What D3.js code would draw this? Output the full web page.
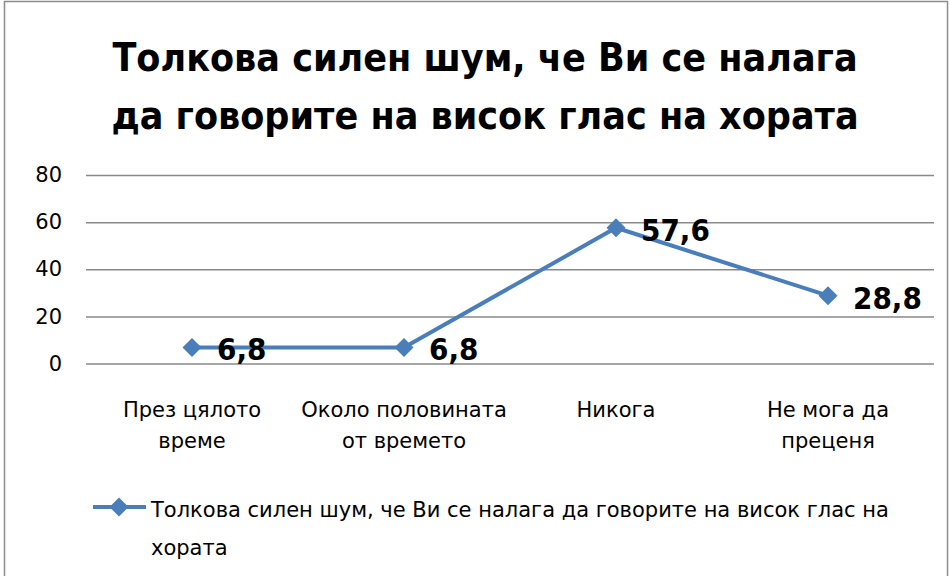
<!DOCTYPE html>
<html>
<head>
<meta charset="utf-8">
<script src="https://cdn.jsdelivr.net/npm/d3@7"></script>
<style>
  body { margin: 0; background: #fff; }
  text { font-family: 'DejaVu Sans', sans-serif; }
  .bold { font-family: 'DejaVu Sans Condensed', 'DejaVu Sans', sans-serif; font-weight: bold; }
</style>
</head>
<body>
<div id="chart"></div>
<script>
// chart data
const categories = [
    ['През цялото', 'време'],
    ['Около половината', 'от времето'],
    ['Никога'],
    ['Не мога да', 'преценя']
];
const values = [6.8, 6.8, 57.6, 28.8];
const valueLabels = ['6,8', '6,8', '57,6', '28,8'];
const yTicks = [0, 20, 40, 60, 80];
const titleLines = ['Толкова силен шум, че Ви се налага', 'да говорите на висок глас на хората'];
const legendLines = ['Толкова силен шум, че Ви се налага да говорите на висок глас на', 'хората'];

const lineColor = '#4a7ebb',
    gridColor = '#898989',
    width = 950,
    height = 576;

const margin = { top: 175, right: 16, bottom: 212, left: 86 };

const svg = d3.select('#chart')
    .append('svg')
    .attr('width', width)
    .attr('height', height);

// outer frame
svg.append('rect')
    .attr('x', 4.5).attr('y', 1.5)
    .attr('width', width - 7).attr('height', height)
    .attr('fill', 'none')
    .attr('stroke', '#8c8c8c')
    .attr('stroke-width', 1.5);

// title
svg.append('text')
    .attr('class', 'bold')
    .attr('text-anchor', 'middle')
    .style('font-size', '39px')
    .selectAll('tspan')
    .data(titleLines)
    .enter()
    .append('tspan')
    .attr('x', 485)
    .attr('y', (d, i) => 71 + i * 58)
    .text(d => d);

const x = d3.scaleBand()
    .domain(d3.range(categories.length))
    .range([margin.left, width - margin.right]);

const y = d3.scaleLinear()
    .domain([0, 80])
    .range([height - margin.bottom - 0.5, margin.top]);

// y axis with gridlines
const yAxis = svg.append('g')
    .attr('transform', 'translate(' + margin.left + ',0)')
    .call(d3.axisLeft(y).tickValues(yTicks).tickSize(-(width - margin.right - margin.left)).tickPadding(24));

yAxis.select('.domain').remove();
yAxis.selectAll('line').attr('stroke', gridColor).attr('stroke-width', 1.5);
yAxis.selectAll('text')
    .style('font-size', '21px')
    .style('font-family', 'DejaVu Sans')
    .attr('fill', '#000');

// category labels
const cat = svg.append('g')
    .selectAll('text')
    .data(categories)
    .enter()
    .append('text')
    .attr('text-anchor', 'middle')
    .style('font-size', '21px');

cat.selectAll('tspan')
    .data((d, i) => d.map(t => ({ t, i })))
    .enter()
    .append('tspan')
    .attr('x', d => x(d.i) + x.bandwidth() / 2)
    .attr('y', (d, j) => 417 + j * 31)
    .text(d => d.t);

// series line
const line = d3.line()
    .x((d, i) => x(i) + x.bandwidth() / 2)
    .y(d => y(d));

svg.append('path')
    .datum(values)
    .attr('fill', 'none')
    .attr('stroke', lineColor)
    .attr('stroke-width', 4)
    .attr('d', line);

const diamond = d3.symbol().type(d3.symbolDiamond2).size(230);

svg.append('g')
    .selectAll('path')
    .data(values)
    .enter()
    .append('path')
    .attr('d', diamond)
    .attr('fill', lineColor)
    .attr('transform', (d, i) => 'translate(' + (x(i) + x.bandwidth() / 2) + ',' + y(d) + ')');

// data labels
svg.append('g')
    .selectAll('text')
    .data(values)
    .enter()
    .append('text')
    .attr('class', 'bold')
    .attr('x', (d, i) => x(i) + x.bandwidth() / 2 + 25)
    .attr('y', d => y(d) + 13)
    .style('font-size', '31px')
    .text((d, i) => valueLabels[i]);

// legend
const legend = svg.append('g');
legend.append('line')
    .attr('x1', 93).attr('x2', 146)
    .attr('y1', 507).attr('y2', 507)
    .attr('stroke', lineColor)
    .attr('stroke-width', 4);
legend.append('path')
    .attr('d', diamond)
    .attr('fill', lineColor)
    .attr('transform', 'translate(119,507)');
legend.append('text')
    .style('font-size', '21px')
    .selectAll('tspan')
    .data(legendLines)
    .enter()
    .append('tspan')
    .attr('x', 151)
    .attr('y', (d, i) => 517 + i * 38)
    .text(d => d);
</script>
</body>
</html>
